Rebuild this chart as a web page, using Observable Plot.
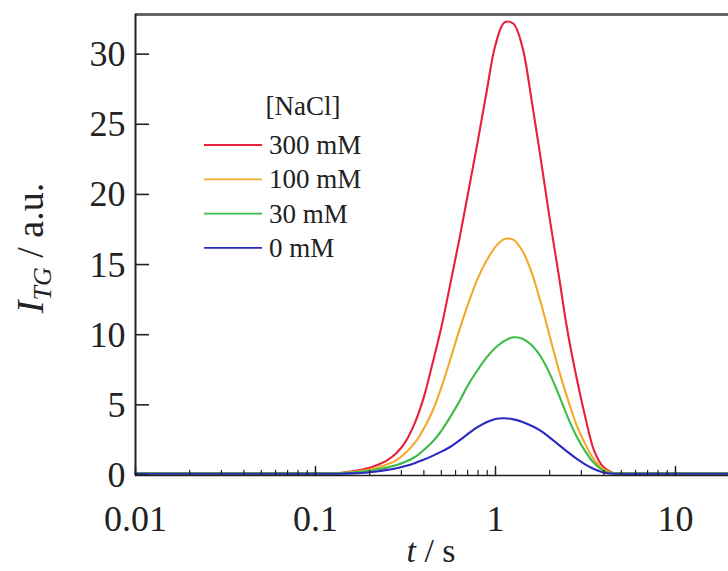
<!DOCTYPE html>
<html>
<head>
<meta charset="utf-8">
<script src="https://cdn.jsdelivr.net/npm/d3@7"></script>
<script src="https://cdn.jsdelivr.net/npm/@observablehq/plot@0.6"></script>
<style>
  html, body { margin: 0; padding: 0; background: #fff; }
  #chart { position: relative; width: 728px; height: 571px; overflow: hidden; }
</style>
</head>
<body>
<div id="chart"></div>
<script>
// time grid (s)
const tValues = [0.01, 0.02, 0.05, 0.1,
  0.126, 0.141, 0.158, 0.178, 0.2, 0.224, 0.251, 0.282, 0.316, 0.355, 0.398, 0.447, 0.501, 0.562, 0.631, 0.708, 0.794, 0.891,
  1.0, 1.122, 1.259, 1.413, 1.585, 1.778, 1.995, 2.239, 2.512, 2.818, 3.162, 3.548, 3.981, 4.467, 5.012,
  7, 10, 20];
// I_TG for each NaCl concentration
const i300 = [0.15, 0.15, 0.15, 0.15,
  0.15, 0.2, 0.28, 0.4, 0.55, 0.78, 1.1, 1.6, 2.4, 3.7, 5.5, 8.0, 10.6, 13.7, 16.9, 20.3, 23.7, 27.3,
  30.7, 32.3, 32.2, 30.5, 26.8, 22.7, 18.4, 14.4, 10.3, 7.0, 4.1, 1.7, 0.6, 0.2, 0.15,
  0.15, 0.15, 0.15];
const i100 = [0.15, 0.15, 0.15, 0.15,
  0.17, 0.2, 0.25, 0.32, 0.42, 0.57, 0.8, 1.1, 1.6, 2.3, 3.3, 4.6, 6.3, 8.3, 10.4, 12.3, 14.0, 15.3,
  16.3, 16.85, 16.8, 16.0, 14.5, 12.4, 10.0, 7.6, 5.5, 3.6, 2.2, 1.1, 0.45, 0.18, 0.15,
  0.15, 0.15, 0.15];
const i30 = [0.15, 0.15, 0.15, 0.15,
  0.15, 0.17, 0.21, 0.27, 0.34, 0.45, 0.58, 0.74, 0.98, 1.3, 1.8, 2.4, 3.2, 4.2, 5.3, 6.5, 7.5, 8.4,
  9.1, 9.6, 9.85, 9.75, 9.3, 8.5, 7.3, 5.8, 4.2, 2.8, 1.7, 0.85, 0.35, 0.17, 0.15,
  0.15, 0.15, 0.15];
const i0 = [0.12, 0.12, 0.12, 0.12,
  0.12, 0.13, 0.15, 0.18, 0.23, 0.3, 0.4, 0.52, 0.68, 0.88, 1.12, 1.4, 1.7, 2.05, 2.5, 3.0, 3.45, 3.8,
  4.03, 4.08, 4.0, 3.82, 3.55, 3.2, 2.72, 2.2, 1.68, 1.2, 0.78, 0.45, 0.22, 0.13, 0.12,
  0.12, 0.12, 0.12];

const seriesNames = ["300 mM", "100 mM", "30 mM", "0 mM"];
const seriesColors = ["#e8203a", "#f2aa2a", "#3dbb48", "#2a2ac0"];
const seriesValues = [i300, i100, i30, i0];
const legendTitle = "[NaCl]";

const yTicks = [0, 5, 10, 15, 20, 25, 30];
const xMajor = [0.01, 0.1, 1, 10];
const xMajorLabels = ["0.01", "0.1", "1", "10"];
const xMinor = [];
for (const d of [0.01, 0.1, 1, 10]) for (let k = 2; k <= 9; k++) xMinor.push(+(d * k).toPrecision(3));

const xDomain = [0.01, 19.7];
const yDomain = [0, 32.86];

// long-format table for the library
const rows = [];
seriesNames.forEach((name, s) => {
  tValues.forEach((t, i) => rows.push({t, v: seriesValues[s][i], name}));
});
const xMajorRows = xMajor.map(v => ({x: v, y: yDomain[0]}));
const xMinorRows = xMinor.map(v => ({x: v, y: yDomain[0]}));

const serif = "'Liberation Serif', 'DejaVu Serif', serif";

const chart = Plot.plot({
  width: 728,
  height: 571,
  marginLeft: 135,
  marginTop: 14,
  marginRight: 0,
  marginBottom: 96,
  style: {fontFamily: serif, background: "white", overflow: "visible"},
  x: {type: "log", domain: xDomain},
  y: {domain: yDomain},
  color: {domain: seriesNames, range: seriesColors},
  marks: [
    Plot.line(rows, {x: "t", y: "v", z: "name", stroke: "name", strokeWidth: 2.1, curve: "catmull-rom"}),
    // frame lines
    Plot.ruleY([yDomain[1]], {stroke: "#666", strokeWidth: 3}),
    Plot.ruleX([xDomain[0]], {stroke: "#222", strokeWidth: 2}),
    Plot.ruleY([0], {stroke: "#222", strokeWidth: 1.5}),
    // y axis labels
    Plot.axisY(yTicks, {anchor: "left", tickSize: 0, tickPadding: 10, fontSize: 36, fill: "#222", label: null}),
    // x axis labels
    Plot.axisX(xMajor, {anchor: "bottom", tickSize: 0, tickPadding: 30, fontSize: 36, fill: "#222", tickFormat: d => xMajorLabels[xMajor.indexOf(d)], label: null}),
    // inward x ticks
    Plot.vector(xMajorRows, {x: "x", y: "y", length: 9, rotate: 0, anchor: "start", r: 0.01, stroke: "#222", strokeWidth: 1.5}),
    Plot.vector(xMinorRows, {x: "x", y: "y", length: 5, rotate: 0, anchor: "start", r: 0.01, stroke: "#222", strokeWidth: 1.2})
  ]
});

document.getElementById("chart").appendChild(chart);

const svg = d3.select(chart);
svg.attr("font-family", serif);

// inward y ticks, positioned through the plot's own scales
const sx = chart.scale("x"), sy = chart.scale("y");
const x0 = sx.apply(xDomain[0]);
const yTickG = svg.append("g").attr("stroke", "#222").attr("stroke-width", 1.6);
yTicks.forEach(v => {
  const py = sy.apply(v);
  yTickG.append("line").attr("x1", x0).attr("x2", x0 + 14).attr("y1", py).attr("y2", py);
});

// axis titles
const yl = svg.append("text")
  .attr("transform", "translate(43,248) rotate(-90)")
  .attr("text-anchor", "middle")
  .attr("font-size", 38)
  .attr("fill", "#222");
yl.append("tspan").attr("font-style", "italic").text("I");
yl.append("tspan").attr("font-style", "italic").attr("font-size", 26).attr("dy", 8).text("TG");
yl.append("tspan").attr("dy", -8).text(" / a.u.");

const xl = svg.append("text")
  .attr("x", 431).attr("y", 562)
  .attr("text-anchor", "middle")
  .attr("font-size", 34)
  .attr("fill", "#222");
xl.append("tspan").attr("font-style", "italic").text("t");
xl.append("tspan").text(" / s");

// legend
const lg = svg.append("g").attr("font-size", 27).attr("fill", "#222").attr("text-anchor", "start");
lg.append("text").attr("x", 303).attr("y", 115).attr("text-anchor", "middle").text(legendTitle);
seriesNames.forEach((name, i) => {
  const y = 145 + i * 34.3;
  lg.append("line").attr("x1", 204).attr("x2", 262).attr("y1", y).attr("y2", y)
    .attr("stroke", seriesColors[i]).attr("stroke-width", 1.8);
  lg.append("text").attr("x", 269).attr("y", y + 9).text(name);
});
</script>
</body>
</html>
